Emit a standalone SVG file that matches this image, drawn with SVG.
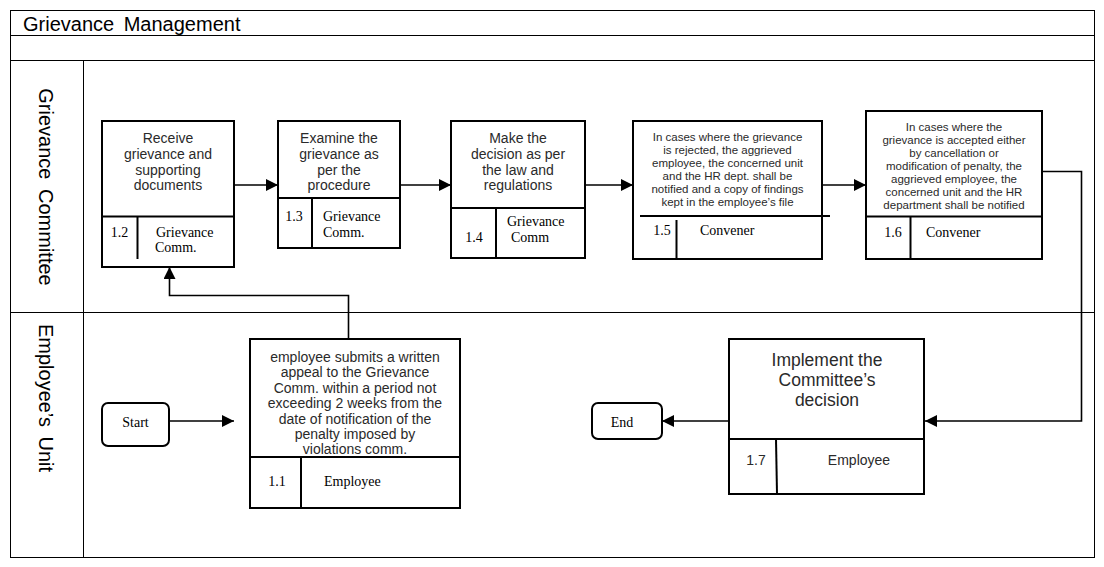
<svg xmlns="http://www.w3.org/2000/svg" width="1104" height="567" viewBox="0 0 1104 567">
<style>
.frame{fill:none;stroke:#000;stroke-width:1}
.box{fill:#fff;stroke:#000;stroke-width:2}
.ln{fill:none;stroke:#000;stroke-width:2}
.conn{fill:none;stroke:#000;stroke-width:1.6}
.a{font-family:"Liberation Sans",Arial,sans-serif;fill:#2a2a2a;text-anchor:middle}
.t{font-family:"Liberation Serif","Times New Roman",serif;font-size:14px;fill:#000}
.m{font-size:14px}
.s{font-size:11.5px}
.lane{font-family:"Liberation Sans",Arial,sans-serif;font-size:20px;fill:#000;text-anchor:middle;word-spacing:4px}
</style>
<defs>
<marker id="arr" markerUnits="userSpaceOnUse" markerWidth="13" markerHeight="13" refX="12" refY="6" orient="auto">
<path d="M0,0 L12,6 L0,12 z" fill="#000"/>
</marker>
</defs>
<rect width="1104" height="567" fill="#fff"/>
<g id="pool">
<rect class="frame" x="10.5" y="10.5" width="1084" height="547"/>
<line class="frame" x1="10" y1="35.5" x2="1094" y2="35.5"/>
<line class="frame" x1="10" y1="60.5" x2="1094" y2="60.5"/>
<line class="frame" x1="10" y1="312.5" x2="1094" y2="312.5"/>
<line class="frame" x1="83.5" y1="60" x2="83.5" y2="557"/>
<text x="23" y="31" font-family="Liberation Sans,Arial,sans-serif" font-size="20" word-spacing="4">Grievance Management</text>
</g>
<g id="lane-committee"><text class="lane" transform="translate(39,187) rotate(90)">Grievance Committee</text></g>
<g id="lane-employee"><text class="lane" transform="translate(39,398) rotate(90)">Employee’s Unit</text></g>
<g id="connectors">
<path class="conn" d="M169,421 H234" marker-end="url(#arr)"/>
<path class="conn" d="M348.5,339 V295.5 H169.5 V267" marker-end="url(#arr)"/>
<path class="conn" d="M234,185 H278" marker-end="url(#arr)"/>
<path class="conn" d="M400,185 H451" marker-end="url(#arr)"/>
<path class="conn" d="M585,185 H633" marker-end="url(#arr)"/>
<path class="conn" d="M822,185 H866" marker-end="url(#arr)"/>
<path class="conn" d="M1042,171.5 H1081.5 V421 H925" marker-end="url(#arr)"/>
<path class="conn" d="M729,421 H662" marker-end="url(#arr)"/>
</g>
<g id="start">
<rect class="box" x="102" y="403" width="67" height="43" rx="6"/>
<text class="t" x="135.5" y="427" text-anchor="middle">Start</text>
</g>
<g id="end">
<rect class="box" x="592" y="403" width="70" height="36" rx="6"/>
<text class="t" x="622" y="427" text-anchor="middle">End</text>
</g>
<g id="n1-1">
<rect class="box" x="250" y="339" width="210" height="169"/>
<line class="ln" x1="250" y1="457" x2="460" y2="457"/>
<line class="ln" x1="301" y1="457" x2="301" y2="508"/>
<text class="a m" x="355"><tspan x="355" y="361.5">employee submits a written</tspan><tspan x="355" y="377">appeal to the Grievance</tspan><tspan x="355" y="392.5">Comm. within a period not</tspan><tspan x="355" y="408">exceeding 2 weeks from the</tspan><tspan x="355" y="423.5">date of notification of the</tspan><tspan x="355" y="439">penalty imposed by</tspan><tspan x="355" y="454">violations comm.</tspan></text>
<text class="t" x="277" y="486" text-anchor="middle">1.1</text>
<text class="t" x="324" y="486">Employee</text>
</g>
<g id="n1-2">
<rect class="box" x="102" y="121" width="132" height="146"/>
<line class="ln" x1="102" y1="216.5" x2="234" y2="216.5"/>
<line class="ln" x1="137.5" y1="216" x2="137.5" y2="259"/>
<text class="a m"><tspan x="168" y="143">Receive</tspan><tspan x="168" y="159">grievance and</tspan><tspan x="168" y="175">supporting</tspan><tspan x="168" y="190">documents</tspan></text>
<text class="t" x="119.5" y="237" text-anchor="middle">1.2</text>
<text class="t"><tspan x="156" y="237">Grievance</tspan><tspan x="155" y="252">Comm.</tspan></text>
</g>
<g id="n1-3">
<rect class="box" x="278" y="121" width="122" height="127"/>
<line class="ln" x1="278" y1="198" x2="400" y2="198"/>
<line class="ln" x1="312" y1="198" x2="312" y2="248"/>
<text class="a m"><tspan x="339" y="143">Examine the</tspan><tspan x="339" y="159">grievance as</tspan><tspan x="339" y="175">per the</tspan><tspan x="339" y="190">procedure</tspan></text>
<text class="t" x="294" y="221" text-anchor="middle">1.3</text>
<text class="t"><tspan x="323" y="221">Grievance</tspan><tspan x="323" y="237">Comm.</tspan></text>
</g>
<g id="n1-4">
<rect class="box" x="451" y="121" width="134" height="137"/>
<line class="ln" x1="451" y1="208" x2="585" y2="208"/>
<line class="ln" x1="496" y1="208" x2="496" y2="258"/>
<text class="a m"><tspan x="518" y="143">Make the</tspan><tspan x="518" y="159">decision as per</tspan><tspan x="518" y="175">the law and</tspan><tspan x="518" y="190">regulations</tspan></text>
<text class="t" x="474" y="242" text-anchor="middle">1.4</text>
<text class="t"><tspan x="507" y="226">Grievance</tspan><tspan x="511" y="242">Comm</tspan></text>
</g>
<g id="n1-5">
<rect class="box" x="633" y="121" width="189" height="138"/>
<line class="ln" x1="640" y1="216" x2="830" y2="216"/>
<line class="ln" x1="676.5" y1="220" x2="676.5" y2="259"/>
<text class="a s"><tspan x="727.5" y="141">In cases where the grievance</tspan><tspan x="727.5" y="154">is rejected, the aggrieved</tspan><tspan x="727.5" y="167">employee, the concerned unit</tspan><tspan x="727.5" y="180">and the HR dept. shall be</tspan><tspan x="727.5" y="193">notified and a copy of findings</tspan><tspan x="727.5" y="206">kept in the employee’s file</tspan></text>
<text class="t" x="662" y="235" text-anchor="middle">1.5</text>
<text class="t" x="700" y="235">Convener</text>
</g>
<g id="n1-6">
<rect class="box" x="866" y="111" width="176" height="148"/>
<line class="ln" x1="866" y1="216.5" x2="1042" y2="216.5"/>
<line class="ln" x1="910.5" y1="216" x2="910.5" y2="259"/>
<text class="a s"><tspan x="954" y="131">In cases where the</tspan><tspan x="954" y="144">grievance is accepted either</tspan><tspan x="954" y="157">by cancellation or</tspan><tspan x="954" y="170">modification of penalty, the</tspan><tspan x="954" y="182.5">aggrieved employee, the</tspan><tspan x="954" y="195.5">concerned unit and the HR</tspan><tspan x="954" y="208.5">department shall be notified</tspan></text>
<text class="t" x="893" y="237" text-anchor="middle">1.6</text>
<text class="t" x="926" y="237">Convener</text>
</g>
<g id="n1-7">
<rect class="box" x="729" y="339" width="195" height="155"/>
<line class="ln" x1="729" y1="439" x2="924" y2="439"/>
<line class="ln" x1="776" y1="439" x2="777" y2="494"/>
<text class="a" font-size="17.5"><tspan x="827" y="366">Implement the</tspan><tspan x="827" y="386">Committee’s</tspan><tspan x="827" y="406">decision</tspan></text>
<text class="a m" x="756" y="465">1.7</text>
<text class="a m" x="859" y="465">Employee</text>
</g>
</svg>
